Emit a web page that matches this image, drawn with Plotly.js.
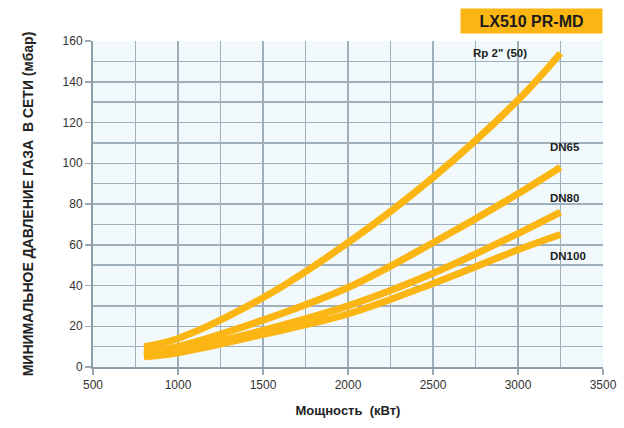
<!DOCTYPE html>
<html>
<head>
<meta charset="utf-8">
<script src="https://cdn.plot.ly/plotly-3.0.1.min.js"></script>
<style>html,body{margin:0;padding:0;background:#fff;}#chart{width:624px;height:428px;}</style>
</head>
<body>
<div id="chart"></div>
<script>
const power = [800, 1000, 1500, 2000, 2500, 3000, 3250];
const rp50 = [10, 14, 34, 61, 93, 131, 154];
const dn65 = [7, 10, 23, 39, 61, 85, 98];
const dn80 = [5.5, 8, 18, 30, 46, 65.5, 76];
const dn100 = [5, 7, 16, 26, 41, 57.5, 65];
const seriesNames = ['Rp 2" (50)', 'DN65', 'DN80', 'DN100'];
const seriesValues = [rp50, dn65, dn80, dn100];
const labelY = [154, 108, 83, 54.5];
const labelX = [2895, 3175, 3175, 3175];

const lineColor = '#fbb614';
const gridColor = '#a0b0ba';

const traces = seriesValues.map((vals, i) => ({
  x: power, y: vals, type: 'scatter', mode: 'lines', name: seriesNames[i],
  line: {color: lineColor, width: 7, shape: 'spline', smoothing: 1},
  hoverinfo: 'skip'
}));

const annotations = seriesNames.map((n, i) => ({
  x: labelX[i], y: labelY[i], xref: 'x', yref: 'y', text: '<b>' + n + '</b>', showarrow: false,
  xanchor: 'left', yanchor: 'middle',
  font: {family: 'Liberation Sans, Arial, sans-serif', size: 11.5, color: '#222'}
}));
annotations[0].xanchor = 'center';
annotations.push({
  xref: 'paper', yref: 'paper', x: 1, y: 1.021, xanchor: 'right', yanchor: 'bottom',
  text: '<b>LX510 PR-MD</b>', showarrow: false, bgcolor: '#fbb614',
  font: {family: 'Liberation Sans, Arial, sans-serif', size: 16, color: '#1a1a1a'},
  borderpad: 2, width: 137, height: 20
});

const layout = {
  width: 624, height: 428,
  margin: {l: 93, r: 21, t: 41, b: 61},
  paper_bgcolor: '#ffffff', plot_bgcolor: '#f1f9fd',
  showlegend: false,
  font: {family: 'Liberation Sans, Arial, sans-serif', size: 12, color: '#333'},
  xaxis: {
    range: [500, 3500], dtick: 500, tick0: 500,
    showgrid: true, gridcolor: gridColor, gridwidth: 1.5,
    minor: {dtick: 250, showgrid: true, gridcolor: gridColor, gridwidth: 1.5},
    ticks: 'outside', ticklen: 6, tickcolor: '#9aa9b2', tickwidth: 1.5,
    showline: true, linecolor: '#8e9ea8', linewidth: 2, mirror: false,
    zeroline: false, fixedrange: true,
    tickfont: {size: 12, color: '#333'},
    title: {text: '<b>Мощность  (кВт)</b>', font: {size: 13, color: '#222'}, standoff: 14}
  },
  yaxis: {
    range: [0, 160], dtick: 20,
    showgrid: true, gridcolor: gridColor, gridwidth: 1.5,
    minor: {dtick: 10, showgrid: true, gridcolor: gridColor, gridwidth: 1.5},
    ticks: 'outside', ticklen: 6, tickcolor: '#9aa9b2', tickwidth: 1.5,
    showline: true, linecolor: '#8e9ea8', linewidth: 2,
    zeroline: false, fixedrange: true,
    tickfont: {size: 12, color: '#333'},
    title: {text: '<b>МИНИМАЛЬНОЕ ДАВЛЕНИЕ ГАЗА  В СЕТИ (мбар)</b>',
      font: {family: 'Liberation Sans Narrow, Liberation Sans, Arial, sans-serif', size: 14, color: '#222'}, standoff: 26}
  },
  annotations: annotations
};

Plotly.newPlot('chart', traces, layout, {displayModeBar: false, staticPlot: true});
</script>
</body>
</html>
